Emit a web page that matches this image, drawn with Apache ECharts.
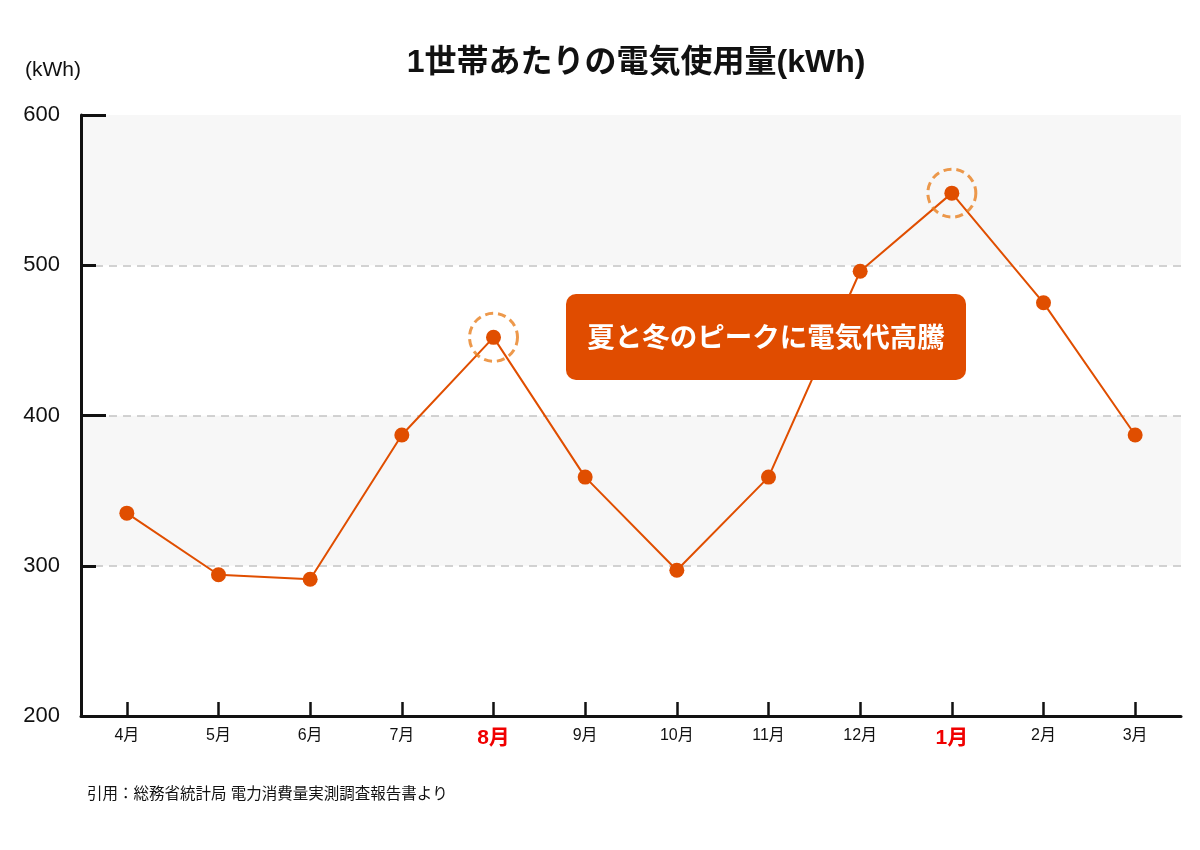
<!DOCTYPE html>
<html>
<head>
<meta charset="utf-8">
<script src="https://cdn.jsdelivr.net/npm/echarts@6/dist/echarts.min.js"></script>
<style>
html,body{margin:0;padding:0;background:#fff;}
#chart{width:1200px;height:850px;}
</style>
</head>
<body>
<div id="chart"></div>
<script>
const months = ['4月','5月','6月','7月','8月','9月','10月','11月','12月','1月','2月','3月'];
const usage = [335, 294, 291, 387, 452, 359, 297, 359, 496, 548, 475, 387];
const peakMonths = ['8月','1月'];
const yTicks = [200, 300, 400, 500, 600];
const titleText = '1世帯あたりの電気使用量(kWh)';
const unitText = '(kWh)';
const noteText = '夏と冬のピークに電気代高騰';
const sourceText = '引用：総務省統計局 電力消費量実測調査報告書より';

const FONT = '"Liberation Sans", "Noto Sans CJK JP", sans-serif';
const peakData = usage.map((v, i) => peakMonths.includes(months[i]) ? v : '-');

const chart = echarts.init(document.getElementById('chart'));
chart.setOption({
  backgroundColor: '#fff',
  textStyle: { fontFamily: FONT },
  title: {
    text: titleText,
    left: 631, top: 42, textAlign: 'center',
    textStyle: { fontFamily: FONT, fontSize: 32, fontWeight: 'bold', color: '#111' }
  },
  grid: { left: 81, right: 19, top: 115, bottom: 134 },
  xAxis: {
    type: 'category',
    data: months,
    boundaryGap: true,
    axisLine: { show: true, lineStyle: { color: '#111', width: 3 } },
    axisTick: { show: true, inside: true, length: 14, alignWithLabel: true, lineStyle: { color: '#111', width: 2.5 } },
    axisLabel: {
      margin: 12,
      color: '#111',
      fontSize: 16,
      fontFamily: FONT,
      formatter: v => peakMonths.includes(v) ? '{red|' + v + '}' : v,
      rich: { red: { color: '#f00000', fontSize: 21, fontWeight: 'bold', fontFamily: FONT } }
    },
    splitLine: { show: false }
  },
  yAxis: [{
    type: 'value',
    min: yTicks[0], max: yTicks[yTicks.length - 1], interval: 100,
    name: unitText,
    nameLocation: 'end',
    nameGap: 34,
    nameTextStyle: { align: 'right', color: '#111', fontSize: 21, fontFamily: FONT, padding: [0, 0, 0, 0] },
    axisLine: { show: true, lineStyle: { color: '#111', width: 3 } },
    axisTick: { show: true, inside: true, length: 15, lineStyle: { color: '#111', width: 3 } },
    axisLabel: { margin: 21, color: '#111', fontSize: 22, fontFamily: FONT, padding: [3, 0, 0, 0] },
    splitLine: {
      show: true,
      lineStyle: { type: [8, 6], width: 1.5, color: ['rgba(0,0,0,0)', '#c4c4c4', '#c4c4c4', '#c4c4c4', 'rgba(0,0,0,0)'] }
    },
    splitArea: { show: true, areaStyle: { color: ['#ffffff', '#f7f7f7'] } }
  }, {
    type: 'value',
    position: 'left',
    min: yTicks[0], max: yTicks[yTicks.length - 1], interval: 200,
    axisLine: { show: false },
    axisTick: { show: true, inside: true, length: 25, lineStyle: { color: '#111', width: 3 } },
    axisLabel: { show: false },
    splitLine: { show: false },
    splitArea: { show: false }
  }],
  series: [{
    type: 'line',
    data: usage,
    symbol: 'circle',
    symbolSize: 15,
    lineStyle: { color: '#e04e00', width: 2 },
    itemStyle: { color: '#e04e00' },
    z: 3
  }, {
    type: 'scatter',
    data: peakData,
    symbol: 'circle',
    symbolSize: 48,
    itemStyle: { color: 'rgba(0,0,0,0)', borderColor: '#e8801f', borderWidth: 3, borderType: [8, 5] },
    silent: true,
    z: 4
  }],
  graphic: [{
    type: 'rect',
    shape: { x: 566, y: 294, width: 400, height: 86, r: 10 },
    style: { fill: '#e04c00' },
    z: 100
  }, {
    type: 'text',
    x: 766, y: 339,
    style: {
      text: noteText, fill: '#ffffff', fontSize: 27.5, fontWeight: 'bold', fontFamily: FONT,
      align: 'center', verticalAlign: 'middle'
    },
    z: 101
  }, {
    type: 'text',
    x: 87, y: 787,
    style: { text: sourceText, fill: '#111', fontSize: 15.5, fontFamily: FONT }
  }]
});
</script>
</body>
</html>
